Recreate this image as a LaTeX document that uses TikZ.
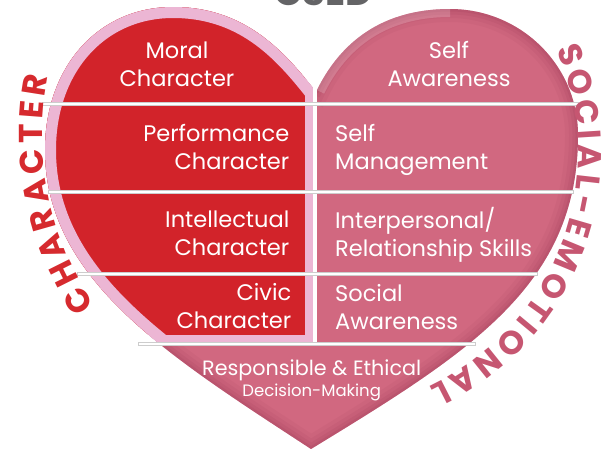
\documentclass[tikz,border=0pt]{standalone}
\usepackage{fontspec}
\setmainfont{Poppins}
\usetikzlibrary{decorations.text}
\definecolor{cRed}{RGB}{210,35,42}
\definecolor{cPink}{RGB}{236,182,212}
\definecolor{cRose}{RGB}{209,104,128}
\definecolor{cRoseDark}{RGB}{150,50,80}
\definecolor{cCharText}{RGB}{214,42,46}
\definecolor{cSocText}{RGB}{198,86,113}
\definecolor{cGray}{RGB}{100,100,102}
\definecolor{cLine}{RGB}{205,205,205}
\newcommand\arcfont{\fontsize{33}{33}\selectfont\bfseries}
\begin{document}
\begin{tikzpicture}[x=1pt,y=-1pt,
  lbl/.style={text=white, inner sep=0pt, font=\fontsize{22.5}{28}\selectfont},
  sepline/.style={fill=white, draw=cLine, line width=0.4pt}]
\useasboundingbox (0,0) rectangle (612,448);
\def\heartpath{(311,449) .. controls (169,356) and (45,280) .. (45,150)
  .. controls (45,67) and (98,7) .. (173,7)
  .. controls (243,7) and (282,49) .. (313,88) -- (317,90)
  .. controls (337,49.5) and (375,9) .. (450,9)
  .. controls (520.7,9) and (578,65.4) .. (578,135)
  .. controls (578,285) and (470,352) .. (311,449) -- cycle}
% whole heart (rose) with inner edge shading
\fill[cRose] \heartpath;
\begin{scope}
  \clip \heartpath;
  \foreach \w/\o in {26/0.07,18/0.09,11/0.11,5/0.14}
    \draw[cRoseDark, line width=\w pt, opacity=\o] \heartpath;
  \draw[white, line width=16pt, opacity=0.18] (317,90) .. controls (337,49.5) and (375,9) .. (450,9);
\end{scope}
% left half: pink border and red field
\begin{scope}
  \clip (0,0) rectangle (313,343);
  \fill[cPink] \heartpath;
  \begin{scope}
    \clip \heartpath;
    \fill[cRed] (0,0) rectangle (305,335);
    \draw[cPink, line width=22pt] \heartpath;
  \end{scope}
\end{scope}
% central white gap
\fill[white] (313,60) rectangle (317,343);
% separator lines
\draw[sepline] (42,102) rectangle (578,105);
\draw[sepline] (48,190.5) rectangle (573,193.5);
\draw[sepline] (77,272) rectangle (537,275);
\draw[sepline] (138,342) rectangle (475,345);
% title (cut by the top edge)
\node[font=\fontsize{37}{37}\selectfont\bfseries, text=cGray, anchor=base, inner sep=0pt] (title) at (323.5,5.5) {CSED};
% labels left (base = baseline of the last line)
\node[lbl, anchor=base, align=center] (moral) at (177,86) {Moral\\Character};
\node[lbl, anchor=base east, align=right] (perf) at (289.5,169.3) {Performance\\Character};
\node[lbl, anchor=base east, align=right] (intel) at (289.5,255.5) {Intellectual\\Character};
\node[lbl, anchor=base east, align=right] (civic) at (291.5,328.5) {Civic\\Character};
% labels right
\node[lbl, anchor=base, align=center] (selfaw) at (449,86) {Self\\Awareness};
\node[lbl, anchor=base west, align=left] (selfman) at (335,169.3) {Self\\Management};
\node[lbl, anchor=base west, align=left] (inter) at (335,256.5) {Interpersonal/\\Relationship Skills};
\node[lbl, anchor=base west, align=left] (social) at (335,329) {Social\\Awareness};
% bottom
\node[lbl, anchor=base, font=\fontsize{20.7}{26}\selectfont] (resp) at (311.7,375) {Responsible \& Ethical};
\node[lbl, anchor=base, font=\fontsize{16.5}{20}\selectfont] (dec) at (311.7,396) {Decision-Making};
% curved titles
\path[decorate, decoration={text along path, text align={fit to path}, text color=cCharText,
  text={|\arcfont|CHARACTER}}]
  ([shift={(145.5:302)}]344,134) arc[start angle=145.5, end angle=191, radius=302];
\path[decorate, decoration={text along path, text align={fit to path}, text color=cSocText,
  text={|\arcfont|SOCIAL-EMOTIONAL}}]
  ([shift={(-23.3:260)}]318,152) arc[start angle=-23.3, end angle=64.6, radius=260];
\end{tikzpicture}
\end{document}
